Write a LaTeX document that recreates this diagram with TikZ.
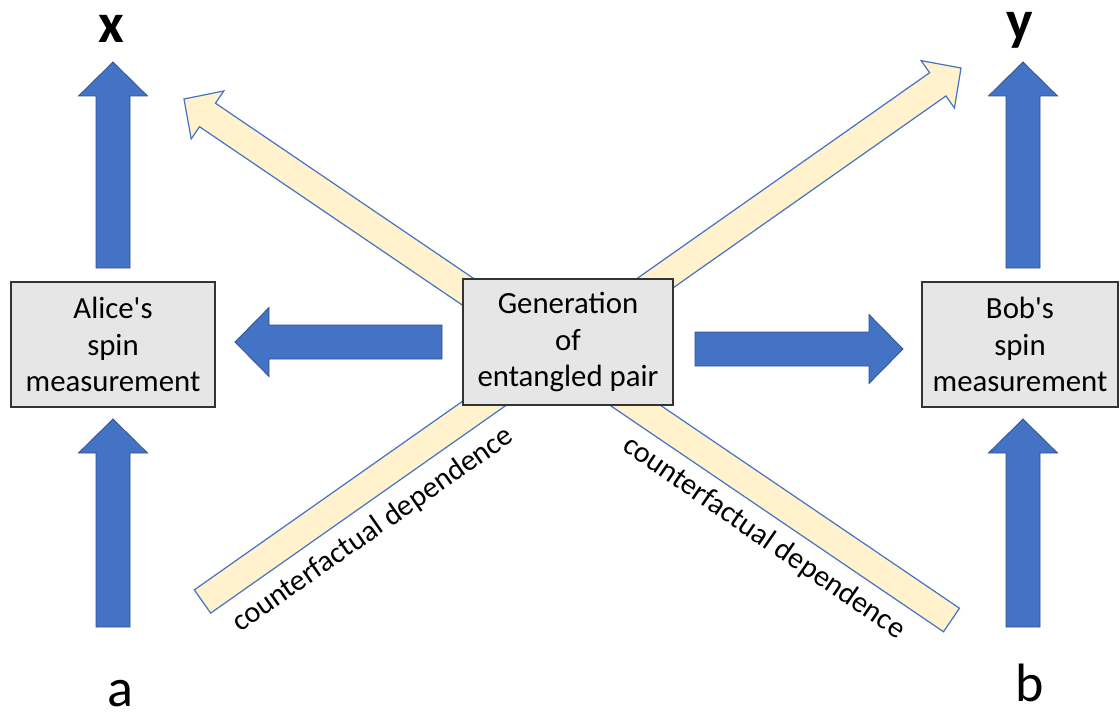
\documentclass[tikz,border=0pt]{standalone}
\usepackage{fontspec}
\setmainfont{Carlito}
\usetikzlibrary{calc}

\definecolor{arrowblue}{HTML}{4472C4}
\definecolor{arrowedge}{HTML}{2F528F}
\definecolor{cream}{HTML}{FFF2CC}
\definecolor{boxgrey}{HTML}{E7E6E6}

\tikzset{
  arrshaft/.store in=\arrshaft,
  arrhead/.store in=\arrhead,
  arrtip/.store in=\arrtiplen,
  bluearrow/.style={fill=arrowblue, draw=arrowedge, line width=0.4pt,
    arrshaft=8.5pt, arrhead=17.25pt, arrtip=17pt},
  creamarrow/.style={fill=cream, draw=arrowblue, line width=0.6pt,
    arrshaft=7.1pt, arrhead=14.5pt, arrtip=14.2pt},
  measbox/.style={draw=black!80, fill=boxgrey, line width=0.7pt, align=center,
    inner sep=0pt, font=\fontsize{15.4}{18.4}\selectfont},
  varlabel/.style={font=\fontsize{27}{30}\selectfont, anchor=base, inner sep=0pt},
  outlabel/.style={font=\fontsize{28}{30}\selectfont\bfseries, anchor=base, inner sep=0pt},
  cflabel/.style={font=\fontsize{15}{18}\selectfont, inner sep=0pt},
}

% block arrow from #2 (tail) to #3 (tip)
\newcommand{\blockarrow}[3]{%
  \path[#1] ($(#3)!\arrtiplen!(#2)$) coordinate (hb);
  \filldraw[#1] ($(#2)!\arrshaft!90:(#3)$) -- ($(hb)!\arrshaft!90:(#3)$)
    -- ($(hb)!\arrhead!90:(#3)$) -- (#3) -- ($(hb)!\arrhead!-90:(#3)$)
    -- ($(hb)!\arrshaft!-90:(#3)$) -- ($(#2)!\arrshaft!-90:(#3)$) -- cycle;
}

\begin{document}
\begin{tikzpicture}[x=0.5pt, y=-0.5pt]
  \useasboundingbox (0,0) rectangle (1120,717);

  % counterfactual dependence
  \coordinate (cfa) at (202.5,601.5);
  \coordinate (cfy) at (961,68);
  \coordinate (cfb) at (951.5,620);
  \coordinate (cfx) at (184,99);
  \blockarrow{creamarrow}{cfa}{cfy}
  \blockarrow{creamarrow}{cfb}{cfx}
  \node[cflabel, rotate=35] (cfleft) at (373,530) {counterfactual dependence};
  \node[cflabel, rotate=-34.5] (cfright) at (764,538) {counterfactual dependence};

  % boxes
  \node[measbox, minimum width=102pt, minimum height=62.5pt] (alice) at (113,344.5)
    {Alice\textquotesingle s\\spin\\measurement};
  \node[measbox, minimum width=105pt, minimum height=63pt] (gen) at (568,342)
    {Generation\\of\\entangled pair};
  \node[measbox, minimum width=98pt, minimum height=62.5pt] (bob) at (1020,344.5)
    {Bob\textquotesingle s\\spin\\measurement};

  % settings and outcomes
  \node[outlabel] (x) at (111,43) {x};
  \node[outlabel] (y) at (1020,40) {y};
  \node[varlabel] (a) at (120,706) {a};
  \node[varlabel] (b) at (1030,701) {b};

  % blue arrows
  \coordinate (aout) at (113,627);  \coordinate (ain) at (113,419);
  \coordinate (xout) at (113,268);  \coordinate (xin) at (113,62);
  \coordinate (bout) at (1023,627); \coordinate (bin) at (1023,419);
  \coordinate (yout) at (1023,268); \coordinate (yin) at (1023,62);
  \coordinate (lout) at (442,342);  \coordinate (lin) at (235,342);
  \coordinate (rout) at (695,349);  \coordinate (rin) at (903,349);
  \blockarrow{bluearrow}{aout}{ain}
  \blockarrow{bluearrow}{xout}{xin}
  \blockarrow{bluearrow}{bout}{bin}
  \blockarrow{bluearrow}{yout}{yin}
  \blockarrow{bluearrow}{lout}{lin}
  \blockarrow{bluearrow}{rout}{rin}
\end{tikzpicture}
\end{document}
